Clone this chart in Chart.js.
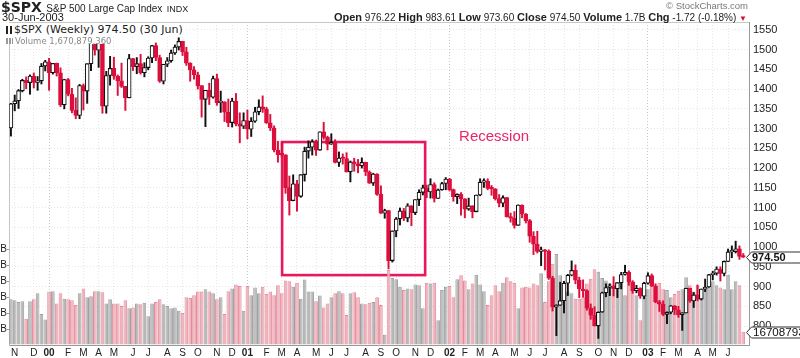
<!DOCTYPE html>
<html>
<head>
<meta charset="utf-8">
<script src="https://cdn.jsdelivr.net/npm/chart.js@4.4.1/dist/chart.umd.min.js"></script>
<style>
html, body { margin: 0; padding: 0; background: #fff; }
#wrap { position: relative; width: 800px; height: 358px; overflow: hidden; font-family: Arial, "Liberation Sans", sans-serif; color: #222; }
#chart { position: absolute; left: 0; top: 0; }
.hd { position: absolute; white-space: nowrap; }
#sym { left: 1px; top: -1px; line-height: 14px; }
#sym .s { font: bold 14px "DejaVu Sans", sans-serif; }
#sym .n { font: 10px Arial, sans-serif; }
#sym .e { font: 9px Arial, sans-serif; }
#dt { left: 2px; top: 11px; font: 11px Arial, sans-serif; line-height: 12px; }
#brand { right: 52px; top: 0px; font: 9.5px Arial, sans-serif; color: #777; line-height: 11px; }
#quote { right: 53px; top: 11px; font: 10px Arial, sans-serif; line-height: 12px; }
#quote b { font: bold 11px Arial, sans-serif; }
#quote .tri { color: #d0103a; font-size: 8px; }
#leg1 { position: absolute; left: 5px; top: 23px; height: 13px; line-height: 13px; background: #fff; font: 11px "DejaVu Sans", sans-serif; color: #222; padding-right: 2px; white-space: nowrap; }
#leg2 { position: absolute; left: 5px; top: 36px; height: 8px; line-height: 8px; background: #fff; font: 8.5px "DejaVu Sans", sans-serif; color: #888; padding-right: 1px; white-space: nowrap; }
.icoC { display: inline-block; width: 6px; height: 8px; margin: 0 2px 0 1px; border-left: 2px solid #222; border-right: 2px solid #222; box-sizing: border-box; vertical-align: -1px; }
.icoV { display: inline-block; width: 7px; height: 6px; margin: 0 2px 0 1px; background: linear-gradient(90deg, #999 0 2px, #fff 2px 3px, #999 3px 5px, #fff 5px 6px, #999 6px 7px); vertical-align: 0; }
</style>
</head>
<body>
<div id="wrap">
  <canvas id="chart" width="800" height="358"></canvas>
  <div class="hd" id="sym"><span class="s">$SPX</span> <span class="n">S&amp;P 500 Large Cap Index</span> <span class="e">INDX</span></div>
  <div class="hd" id="dt">30-Jun-2003</div>
  <div class="hd" id="brand">© StockCharts.com</div>
  <div class="hd" id="quote"><b>Open</b> 976.22 <b>High</b> 983.61 <b>Low</b> 973.60 <b>Close</b> 974.50 <b>Volume</b> 1.7B <b>Chg</b> -1.72 (-0.18%) <span class="tri">▼</span></div>
  <div id="leg1"><span class="icoC"></span>$SPX (Weekly) 974.50 (30 Jun)</div>
  <div id="leg2"><span class="icoV"></span>Volume 1,670,879,360</div>
</div>
<script>
// weekly bars, first week starts Mon 25-Oct-1999
const opens = [
  1301.7, 1362.9, 1370.2, 1396.1, 1422.0, 1416.6, 1433.3, 1417.0, 1421.0, 1458.3,
  1469.3, 1441.5, 1465.2, 1441.4, 1360.2, 1424.4, 1387.1, 1346.1, 1333.4, 1409.2,
  1395.1, 1464.5, 1527.5, 1498.6, 1516.4, 1356.6, 1434.5, 1452.4, 1432.6, 1421.0,
  1407.0, 1378.0, 1477.3, 1457.0, 1464.5, 1441.5, 1454.6, 1478.9, 1510.0, 1480.2,
  1419.9, 1462.9, 1471.8, 1491.7, 1506.5, 1520.8, 1494.5, 1465.8, 1448.7, 1436.5,
  1409.0, 1374.2, 1396.9, 1379.6, 1426.7, 1366.0, 1367.7, 1341.8, 1315.2, 1369.9,
  1312.2, 1306.0, 1320.3, 1298.4, 1318.6, 1342.5, 1355.0, 1349.5, 1314.8, 1301.5,
  1245.9, 1234.2, 1233.4, 1150.5, 1117.6, 1160.3, 1128.4, 1183.5, 1243.0, 1253.0,
  1266.6, 1245.7, 1292.0, 1277.9, 1260.7, 1265.0, 1214.4, 1225.4, 1224.4, 1190.6,
  1215.7, 1210.9, 1205.8, 1214.4, 1190.2, 1162.0, 1184.9, 1133.6, 1085.8, 1092.5,
  965.8, 1040.9, 1071.4, 1091.7, 1073.5, 1104.6, 1087.2, 1120.3, 1138.7, 1150.3,
  1139.5, 1158.3, 1123.1, 1144.9, 1161.0, 1172.5, 1145.6, 1127.6, 1133.3, 1122.2,
  1096.2, 1104.2, 1089.8, 1131.8, 1164.3, 1166.2, 1148.7, 1147.4, 1122.7, 1111.0,
  1125.2, 1076.3, 1073.4, 1055.0, 1106.6, 1083.8, 1067.1, 1027.5, 1007.3, 989.1,
  989.8, 989.0, 921.4, 847.8, 852.8, 864.2, 908.6, 928.8, 940.9, 916.1,
  893.9, 889.8, 845.4, 827.4, 800.6, 835.3, 884.4, 897.7, 901.0, 894.7,
  909.8, 930.6, 936.3, 912.2, 889.5, 895.8, 875.4, 908.6, 927.6, 901.8,
  861.4, 855.7, 829.7, 834.9, 851.2, 841.2, 828.9, 833.3, 895.8, 863.5,
  878.9, 868.3, 893.6, 898.8, 930.1, 933.4, 944.3, 933.2, 963.6, 987.8,
  988.6, 995.7, 976.2
];
const highs = [
  1364, 1385, 1399, 1425, 1431, 1436, 1441, 1432, 1465, 1473,
  1478, 1465, 1466, 1454, 1425, 1427, 1402, 1378, 1412, 1413,
  1464, 1553, 1534, 1527, 1527, 1445, 1483, 1481, 1436, 1466,
  1407, 1488, 1478, 1480, 1488, 1467, 1482, 1511, 1517, 1486,
  1463, 1480, 1499, 1512, 1530, 1521, 1506, 1467, 1457, 1443,
  1409, 1397, 1415, 1433, 1438, 1395, 1368, 1375, 1377, 1389,
  1340, 1340, 1347, 1328, 1354, 1373, 1383, 1354, 1336, 1307,
  1268, 1267, 1234, 1180, 1183, 1169, 1183, 1253, 1269, 1272,
  1271, 1292, 1316, 1281, 1287, 1272, 1241, 1236, 1239, 1218,
  1225, 1222, 1226, 1215, 1193, 1187, 1186, 1155, 1096, 1093,
  1041, 1075, 1099, 1098, 1110, 1105, 1120, 1145, 1157, 1157,
  1173, 1163, 1147, 1164, 1176, 1174, 1147, 1135, 1138, 1123,
  1124, 1105, 1132, 1173, 1173, 1173, 1156, 1148, 1133, 1130,
  1126, 1086, 1090, 1107, 1107, 1085, 1070, 1039, 1040, 1000,
  994, 993, 926, 854, 911, 913, 931, 965, 955, 924,
  917, 892, 856, 849, 836, 886, 907, 907, 925, 910,
  936, 954, 940, 915, 903, 897, 911, 935, 932, 907,
  865, 864, 836, 852, 852, 850, 834, 896, 896, 885,
  904, 894, 919, 931, 939, 950, 950, 965, 995, 1003,
  1015, 1003, 983.6
];
const lows = [
  1281, 1345, 1351, 1393, 1401, 1387, 1403, 1397, 1413, 1446,
  1397, 1438, 1433, 1356, 1350, 1383, 1340, 1325, 1325, 1347,
  1364, 1447, 1486, 1455, 1339, 1339, 1410, 1425, 1384, 1404,
  1346, 1378, 1447, 1439, 1438, 1431, 1449, 1467, 1472, 1417,
  1413, 1457, 1468, 1488, 1499, 1485, 1460, 1420, 1425, 1400,
  1329, 1305, 1361, 1377, 1359, 1341, 1318, 1305, 1304, 1307,
  1264, 1300, 1274, 1280, 1316, 1335, 1341, 1313, 1295, 1241,
  1215, 1228, 1136, 1081, 1117, 1091, 1126, 1167, 1225, 1233,
  1232, 1245, 1273, 1246, 1260, 1213, 1204, 1210, 1190, 1165,
  1192, 1188, 1200, 1181, 1161, 1156, 1131, 1085, 1073, 944.8,
  962, 1026, 1056, 1067, 1064, 1054, 1082, 1105, 1132, 1125,
  1124, 1114, 1123, 1144, 1145, 1142, 1116, 1110, 1081, 1074,
  1093, 1074, 1089, 1130, 1151, 1145, 1131, 1119, 1102, 1102,
  1076, 1063, 1048, 1055, 1074, 1061, 1012, 981, 985, 953,
  942, 918, 838, 775.7, 852, 833, 877, 927, 907, 872,
  873, 840, 817, 800, 768.6, 835, 874, 877, 876, 872,
  894, 929, 903, 883, 884, 870, 869, 906, 900, 859,
  837, 826, 806, 831, 829, 822, 788.9, 833, 860, 847,
  864, 866, 887, 898, 917, 929, 914, 927, 963, 973,
  985, 969, 973.6
];
const closes = [
  1362.9, 1370.2, 1396.1, 1422.0, 1416.6, 1433.3, 1417.0, 1421.0, 1458.3, 1469.3,
  1441.5, 1465.2, 1441.4, 1360.2, 1424.4, 1387.1, 1346.1, 1333.4, 1409.2, 1395.1,
  1464.5, 1527.5, 1498.6, 1516.4, 1356.6, 1434.5, 1452.4, 1432.6, 1421.0, 1407.0,
  1378.0, 1477.3, 1457.0, 1464.5, 1441.5, 1454.6, 1478.9, 1510.0, 1480.2, 1419.9,
  1462.9, 1471.8, 1491.7, 1506.5, 1520.8, 1494.5, 1465.8, 1448.7, 1436.5, 1409.0,
  1374.2, 1396.9, 1379.6, 1426.7, 1366.0, 1367.7, 1341.8, 1315.2, 1369.9, 1312.2,
  1306.0, 1320.3, 1298.4, 1318.6, 1342.5, 1355.0, 1349.5, 1314.8, 1301.5, 1245.9,
  1234.2, 1233.4, 1150.5, 1117.6, 1160.3, 1128.4, 1183.5, 1243.0, 1253.0, 1266.6,
  1245.7, 1292.0, 1277.9, 1260.7, 1265.0, 1214.4, 1225.4, 1224.4, 1190.6, 1215.7,
  1210.9, 1205.8, 1214.4, 1190.2, 1162.0, 1184.9, 1133.6, 1085.8, 1092.5, 965.8,
  1040.9, 1071.4, 1091.7, 1073.5, 1104.6, 1087.2, 1120.3, 1138.7, 1150.3, 1139.5,
  1158.3, 1123.1, 1144.9, 1161.0, 1172.5, 1145.6, 1127.6, 1133.3, 1122.2, 1096.2,
  1104.2, 1089.8, 1131.8, 1164.3, 1166.2, 1148.7, 1147.4, 1122.7, 1111.0, 1125.2,
  1076.3, 1073.4, 1055.0, 1106.6, 1083.8, 1067.1, 1027.5, 1007.3, 989.1, 989.8,
  989.0, 921.4, 847.8, 852.8, 864.2, 908.6, 928.8, 940.9, 916.1, 893.9,
  889.8, 845.4, 827.4, 800.6, 835.3, 884.4, 897.7, 901.0, 894.7, 909.8,
  930.6, 936.3, 912.2, 889.5, 895.8, 875.4, 908.6, 927.6, 901.8, 861.4,
  855.7, 829.7, 834.9, 851.2, 841.2, 828.9, 833.3, 895.8, 863.5, 878.9,
  868.3, 893.6, 898.8, 930.1, 933.4, 944.3, 933.2, 963.6, 987.8, 988.6,
  995.7, 976.2, 974.5
];
// weekly volume, billions of shares
const volumes = [
  5.75, 5.6, 5.4, 5.5, 3.3, 5.5, 5.75, 6.5, 3.9, 3.2,
  6.7, 6.75, 5.2, 6.5, 5.8, 5.75, 5.6, 5.0, 6.5, 7.1,
  6.0, 6.1, 6.75, 6.75, 6.6, 5.2, 5.75, 5.2, 5.2, 4.9,
  5.6, 4.6, 4.7, 5.2, 5.1, 5.3, 3.6, 5.2, 5.4, 5.75,
  5.1, 4.9, 4.6, 4.7, 4.3, 4.0, 6.0, 5.9, 6.25, 6.7,
  6.7, 7.0, 6.7, 6.5, 5.75, 6.0, 3.9, 6.75, 7.1, 7.6,
  7.4, 4.3, 7.4, 6.25, 7.2, 6.5, 7.3, 6.4, 6.7, 6.25,
  7.5, 6.5, 8.1, 8.0, 7.3, 7.8, 5.8, 8.2, 6.7, 6.7,
  5.5, 6.2, 4.7, 5.2, 6.0, 6.5, 6.75, 6.5, 3.75, 6.5,
  6.6, 6.0, 5.2, 5.1, 5.3, 5.4, 6.0, 5.0, 1.3, 9.4,
  8.4, 8.25, 7.3, 6.9, 7.1, 7.0, 7.6, 7.5, 4.6, 7.8,
  7.7, 7.8, 3.1, 6.9, 7.3, 7.4, 6.0, 8.25, 8.75, 8.1,
  7.0, 7.7, 8.8, 7.6, 6.75, 5.0, 6.25, 7.5, 6.75, 7.8,
  8.5, 8.0, 7.8, 4.6, 7.2, 7.3, 7.2, 7.7, 7.5, 9.0,
  5.4, 8.0, 10.2, 11.4, 8.75, 7.7, 6.7, 6.5, 5.8, 5.8,
  6.0, 7.7, 8.3, 9.5, 9.2, 8.4, 8.1, 7.7, 7.5, 7.7,
  8.5, 6.25, 8.3, 7.3, 6.25, 3.1, 6.7, 7.0, 7.5, 7.3,
  7.8, 7.0, 6.9, 6.0, 6.4, 6.8, 7.0, 8.5, 7.5, 6.7,
  7.5, 6.5, 7.0, 7.8, 8.0, 7.5, 7.2, 7.0, 8.8, 7.0,
  8.0, 7.5, 1.67
];
const prevClose = 1301.7;

const monthLetters = ['J', 'F', 'M', 'A', 'M', 'J', 'J', 'A', 'S', 'O', 'N', 'D'];
const priceTicks = { min: 752, max: 1570, step: 50 };
const volumeTicks = { max: 40.5, step: 2, labelled: [2, 4, 6, 8, 10, 12] };

const recessionBox = { fromWeek: 71.1, toWeek: 108.6, high: 1266, low: 929 };
const recessionLabel = { week: 117.5, price: 1279, text: 'Recession' };
const lastClose = 974.5;
const lastVolume = 1.67;

const red = '#dc0f3c';
const week0 = Date.UTC(1999, 9, 25);
const weekDates = closes.map((c, i) => new Date(week0 + i * 7 * 86400000));
const categories = weekDates.map(d => d.toISOString().slice(0, 10));
categories.push('');
const xTickText = weekDates.map(d => {
  if (d.getUTCDate() > 7) return '';
  const m = d.getUTCMonth();
  return m === 0 ? String(d.getUTCFullYear()).slice(2) : monthLetters[m];
});
xTickText.push('');

const isDown = i => closes[i] < opens[i];
const volDown = i => closes[i] < (i > 0 ? closes[i - 1] : prevClose);

Chart.defaults.font.family = 'Arial, "Liberation Sans", sans-serif';
Chart.defaults.color = '#222';

const overlay = {
  id: 'overlay',
  beforeDatasetsDraw(chart) {
    const { ctx, chartArea, scales } = chart;
    ctx.save();
    ctx.strokeStyle = '#c8c8c8';
    ctx.lineWidth = 1;
    ctx.beginPath();
    ctx.moveTo(chartArea.left, chartArea.top + 0.5);
    ctx.lineTo(chartArea.right, chartArea.top + 0.5);
    ctx.stroke();
    const x1 = scales.x.getPixelForValue(recessionBox.fromWeek);
    const x2 = scales.x.getPixelForValue(recessionBox.toWeek);
    const y1 = scales.y.getPixelForValue(recessionBox.high);
    const y2 = scales.y.getPixelForValue(recessionBox.low);
    ctx.strokeStyle = '#e8185a';
    ctx.lineWidth = 2.6;
    ctx.strokeRect(x1, y1, x2 - x1, y2 - y1);
    ctx.fillStyle = '#e8246a';
    ctx.font = '15px Arial, "Liberation Sans", sans-serif';
    ctx.textBaseline = 'middle';
    ctx.fillText(recessionLabel.text, scales.x.getPixelForValue(recessionLabel.week), scales.y.getPixelForValue(recessionLabel.price));
    ctx.restore();
  },
  afterDraw(chart) {
    const { ctx, scales } = chart;
    const tag = (y, text, bold) => {
      ctx.beginPath();
      ctx.moveTo(746.5, y);
      ctx.lineTo(751.5, y - 5.5);
      ctx.lineTo(820, y - 5.5);
      ctx.lineTo(820, y + 5.5);
      ctx.lineTo(751.5, y + 5.5);
      ctx.closePath();
      ctx.fillStyle = '#fff';
      ctx.fill();
      ctx.strokeStyle = '#333';
      ctx.lineWidth = 1;
      ctx.stroke();
      ctx.fillStyle = '#111';
      ctx.font = (bold ? 'bold 11px ' : '11.6px ') + 'Arial, "Liberation Sans", sans-serif';
      ctx.textBaseline = 'middle';
      ctx.fillText(text, bold ? 752 : 753, y + 0.5);
    };
    ctx.save();
    tag(Math.round(scales.y.getPixelForValue(lastClose)) + 0.5, lastClose.toFixed(2), true);
    tag(Math.round(scales.yv.getPixelForValue(lastVolume)) + 0.5, '1670879360', false);
    ctx.restore();
  }
};

new Chart(document.getElementById('chart'), {
  type: 'bar',
  data: {
    labels: categories,
    datasets: [
      {
        label: 'Body',
        data: opens.map((o, i) => [Math.min(o, closes[i]), Math.max(o, closes[i])]),
        yAxisID: 'y',
        grouped: false,
        order: 0,
        barThickness: 4,
        minBarLength: 1.5,
        borderWidth: 1.1,
        borderSkipped: false,
        backgroundColor: opens.map((o, i) => isDown(i) ? red : '#fff'),
        borderColor: opens.map((o, i) => isDown(i) ? red : '#111')
      },
      {
        label: 'Wick',
        data: lows.map((l, i) => [l, highs[i]]),
        yAxisID: 'y',
        grouped: false,
        order: 1,
        barThickness: 1.3,
        backgroundColor: opens.map((o, i) => isDown(i) ? red : '#111')
      },
      {
        label: 'Volume',
        data: volumes,
        yAxisID: 'yv',
        grouped: false,
        order: 2,
        categoryPercentage: 1,
        barPercentage: 0.96,
        borderWidth: 1,
        borderSkipped: 'start',
        backgroundColor: volumes.map((v, i) => volDown(i) ? '#f0b3bd' : '#b8b8b8'),
        borderColor: volumes.map((v, i) => volDown(i) ? '#e38c9b' : '#a0a0a0')
      }
    ]
  },
  options: {
    responsive: false,
    animation: false,
    events: [],
    layout: { padding: { top: 22, left: 0, right: 0, bottom: 0 } },
    plugins: { legend: { display: false }, tooltip: { enabled: false } },
    scales: {
      x: {
        offset: true,
        afterFit: s => { s.height = 13; },
        grid: {
          offset: false,
          drawTicks: false,
          color: c => {
            const t = xTickText[c.index];
            if (!t) return 'rgba(0,0,0,0)';
            return /\d/.test(t) ? '#c6c6c6' : '#e6e6e6';
          }
        },
        border: { color: '#999', dash: [1, 2] },
        ticks: {
          autoSkip: false,
          maxRotation: 0,
          minRotation: 0,
          padding: 2,
          color: '#222',
          font: c => ({ size: 10, weight: /\d/.test(xTickText[c.index] || '') ? 'bold' : 'normal' }),
          callback: (v, i) => xTickText[i]
        }
      },
      y: {
        position: 'right',
        min: priceTicks.min,
        max: priceTicks.max,
        afterFit: s => { s.width = 51; },
        grid: { color: '#e6e6e6', drawTicks: false },
        border: { color: '#999', dash: [1, 2] },
        ticks: {
          stepSize: priceTicks.step,
          includeBounds: false,
          autoSkip: false,
          padding: 4,
          color: '#222',
          font: { size: 11 },
          callback: v => String(v)
        }
      },
      yv: {
        position: 'left',
        min: 0,
        max: volumeTicks.max,
        afterFit: s => { s.width = 9; },
        grid: {
          drawOnChartArea: false,
          tickLength: 2,
          color: c => volumeTicks.labelled.includes(c.tick && c.tick.value) ? '#999' : 'rgba(0,0,0,0)'
        },
        border: { color: '#c4c4c4' },
        ticks: {
          stepSize: volumeTicks.step,
          includeBounds: false,
          autoSkip: false,
          padding: 0,
          color: '#222',
          font: { size: 10 },
          callback: v => volumeTicks.labelled.includes(v) ? 'B' : ''
        }
      }
    }
  },
  plugins: [overlay]
});
</script>
</body>
</html>
